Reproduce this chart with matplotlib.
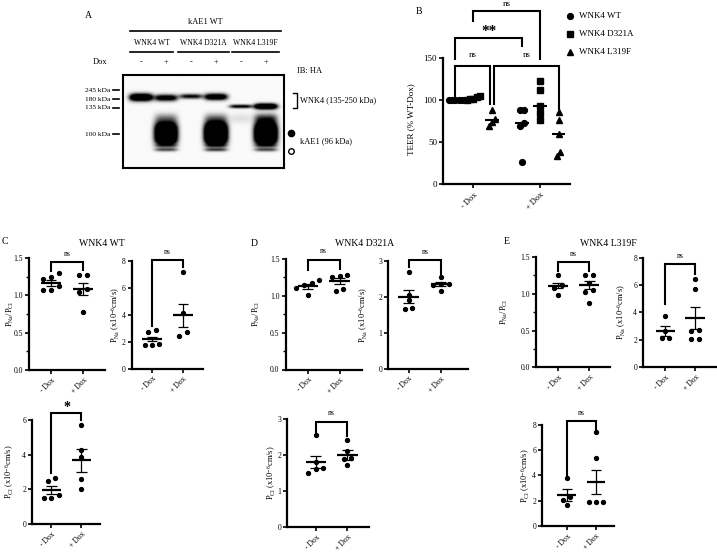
import numpy as np
import matplotlib
matplotlib.use('Agg')
import matplotlib.pyplot as plt

plt.rcParams['font.family'] = ['Liberation Serif', 'DejaVu Serif']
plt.rcParams['mathtext.fontset'] = 'custom'
plt.rcParams['mathtext.rm'] = 'Liberation Serif'
plt.rcParams['mathtext.it'] = 'Liberation Serif:italic'
plt.rcParams['mathtext.bf'] = 'Liberation Serif:bold'

# ---------------- data ----------------
# Panel A (western blot, IB: HA) – lane design and band intensities
blot_groups = ['WNK4 WT', 'WNK4 D321A', 'WNK4 L319F']
blot_dox = ['-', '+', '-', '+', '-', '+']
mw_markers = ['245 kDa', '180 kDa', '135 kDa', '100 kDa']
mw_rows = [15, 24.3, 32.7, 59.3]              # marker rows (px from blot top)
wnk4_rows = [23, 23.5, 22, 22.5, 32, 32]       # apparent WNK4 mobility per lane
wnk4_amp = [1.9, 1.3, 1.0, 1.5, 1.1, 1.9]
wnk4_thick = [3.6, 3.2, 2.4, 3.2, 1.8, 2.8]
kae1_amp = [0, 2.2, 0, 2.6, 0, 2.4]
kae1_upper_amp = [0, 0.45, 0, 0.5, 0.10, 0.75]
kae1_lower_amp = [0, 0.6, 0, 0.65, 0, 0.6]

# Panel B – TEER (% WT-Dox)
genotypes = ['WNK4 WT', 'WNK4 D321A', 'WNK4 L319F']
teer_minus_dox = [[100, 100, 100, 100, 100], [100, 101, 102, 104, 105], [88, 78, 74, 70]]
teer_plus_dox = [[89, 89, 73, 69, 26], [123, 112, 93, 85, 77], [86, 76, 60, 39, 34]]
teer_median_minus = [100, 102, 77]
teer_median_plus = [73, 93, 60]

# Panels C-E
dox_labels = ['- Dox', '+ Dox']
c_ratio_minus = [1.30, 1.245, 1.22, 1.13, 1.07, 1.07]
c_ratio_plus = [1.27, 1.27, 1.08, 1.05, 0.78]
c_pna_minus = [2.83, 2.72, 1.80, 1.78, 1.78]
c_pna_plus = [7.16, 4.15, 2.70, 2.45]
c_pcl_minus = [2.65, 2.50, 1.65, 1.50, 1.50]
c_pcl_plus = [5.70, 4.25, 3.85, 2.60, 2.00]
c_means = {'ratio': [1.16, 1.085], 'pna': [2.2, 3.95], 'pcl': [1.96, 3.67]}
c_sems = {'ratio': [0.04, 0.085], 'pna': [0.17, 0.87], 'pcl': [0.22, 0.65]}

d_ratio_minus = [1.21, 1.18, 1.15, 1.10, 1.01]
d_ratio_plus = [1.28, 1.27, 1.25, 1.09, 1.06]
d_pna_minus = [2.70, 2.05, 1.90, 1.70, 1.65]
d_pna_plus = [2.54, 2.37, 2.35, 2.33, 2.15]
d_pcl_minus = [2.55, 1.80, 1.63, 1.60, 1.50]
d_pcl_plus = [2.42, 2.10, 1.90, 1.88, 1.72]
d_means = {'ratio': [1.13, 1.20], 'pna': [2.0, 2.35], 'pcl': [1.81, 2.0]}
d_sems = {'ratio': [0.037, 0.04], 'pna': [0.18, 0.06], 'pcl': [0.17, 0.13]}

e_ratio_minus = [1.25, 1.12, 1.08, 0.98]
e_ratio_plus = [1.25, 1.25, 1.15, 1.05, 1.03, 0.88]
e_pna_minus = [3.70, 2.60, 2.10, 2.10]
e_pna_plus = [6.47, 5.75, 2.67, 2.60, 2.06, 2.06]
e_pcl_minus = [3.75, 2.30, 2.05, 1.65]
e_pcl_plus = [7.42, 5.41, 1.90, 1.85, 1.85]
e_means = {'ratio': [1.11, 1.12], 'pna': [2.63, 3.58], 'pcl': [2.44, 3.5]}
e_sems = {'ratio': [0.035, 0.05], 'pna': [0.36, 0.79], 'pcl': [0.46, 0.95]}

# significance brackets: (bar level, left leg end, right leg end, label)
c_brackets = {'ratio': (1.44, 1.33, 1.34, 'ns'), 'pna': (8.08, 3.13, 7.58, 'ns'), 'pcl': (6.42, 2.96, 6.0, '*')}
d_brackets = {'ratio': (1.49, 1.35, 1.36, 'ns'), 'pna': (3.02, 2.82, 2.65, 'ns'), 'pcl': (2.93, 2.65, 2.53, 'ns')}
e_brackets = {'ratio': (1.43, 1.31, 1.31, 'ns'), 'pna': (7.55, 4.6, 6.8, 'ns'), 'pcl': (8.32, 3.9, 7.6, 'ns')}

# ---------------- figure ----------------
W, H = 717, 554
fig = plt.figure(figsize=(7.17, 5.54), dpi=100)


def px_rect(l, r, t, b):
    return [l / W, 1 - b / H, (r - l) / W, (b - t) / H]


def swarm(vals, thr, step):
    vals = np.asarray(vals, float)
    order = np.argsort(vals)
    offs = np.zeros(len(vals))
    clusters, cur = [], [order[0]]
    for i in order[1:]:
        if vals[i] - vals[cur[-1]] < thr:
            cur.append(i)
        else:
            clusters.append(cur)
            cur = [i]
    clusters.append(cur)
    for c in clusters:
        k = len(c)
        for j, idx in enumerate(c):
            offs[idx] = (j - (k - 1) / 2) * step
    return offs


def style_axes(ax, lw=1.6):
    for s in ['top', 'right']:
        ax.spines[s].set_visible(False)
    for s in ['left', 'bottom']:
        ax.spines[s].set_linewidth(lw)
    ax.tick_params(width=1.2, length=3, labelsize=5.5, pad=1.5)
    ax.tick_params(which='minor', width=1.0, length=2)
    ax.patch.set_visible(False)


# ---------- Panel A: blot ----------
blot_l, blot_r, blot_t, blot_b = 123, 284, 75, 168
ax_blot = fig.add_axes(px_rect(blot_l, blot_r, blot_t, blot_b))
x0, x1 = 0.28, 6.72
bh = blot_b - blot_t
xs = np.linspace(x0, x1, 420)
ys = np.linspace(0, bh, 260)
X, Y = np.meshgrid(xs, ys)
img = np.full(X.shape, 0.02)
for i in range(6):
    lane = i + 1
    hx = np.exp(-np.abs((X - lane) / 0.46) ** 4)
    img += wnk4_amp[i] * hx * np.exp(-((Y - wnk4_rows[i]) / wnk4_thick[i]) ** 2)
    img += kae1_amp[i] * hx * np.exp(-np.abs((Y - 59) / 11) ** 3)
    img += kae1_upper_amp[i] * hx * np.exp(-((Y - 44) / 5) ** 2)
    img += kae1_lower_amp[i] * hx * np.exp(-((Y - 75) / 1.8) ** 2)
    img += 0.5 * kae1_lower_amp[i] * hx * np.exp(-((Y - 71) / 1.5) ** 2)
ax_blot.imshow(np.clip(img, 0, 1), cmap='gray_r', vmin=0, vmax=1, extent=(x0, x1, bh, 0),
               aspect='auto', interpolation='bilinear')
ax_blot.set_xticks([])
ax_blot.set_yticks([])
for s in ax_blot.spines.values():
    s.set_linewidth(1.5)

# ---------- Panel B ----------
ax_b = fig.add_axes(px_rect(443.3, 570, 58.3, 184.3))
style_axes(ax_b)
ax_b.set_xlim(0.55, 2.45)
ax_b.set_ylim(0, 150)
ax_b.set_yticks([0, 50, 100, 150])
ax_b.set_xticks([1, 2])
ax_b.set_xticklabels(dox_labels, rotation=45, ha='right', va='top', rotation_mode='anchor')
ax_b.tick_params(axis='x', labelsize=6)
ax_b.tick_params(axis='y', labelsize=6.5)
markers = ['o', 's', '^']
msizes = [4.2, 4.0, 4.4]
sub_off = [-0.27, 0.0, 0.28]
for g in range(3):
    for center, vals, med in [(1, teer_minus_dox[g], teer_median_minus[g]),
                              (2, teer_plus_dox[g], teer_median_plus[g])]:
        xpos = center + sub_off[g]
        offs = swarm(vals, 6.0, 0.05)
        ax_b.plot(xpos + offs, vals, linestyle='none', marker=markers[g], ms=msizes[g],
                  color='black', clip_on=False, zorder=3)
        ax_b.hlines(med, xpos - 0.1, xpos + 0.1, color='black', lw=1.5, zorder=4)
ax_b.set_ylabel('TEER (% WT-Dox)', fontsize=6.5)
ax_b.yaxis.set_label_coords((415.5 - 443.3) / (570 - 443.3), 0.52)

b_brackets = [
    (1 + sub_off[0], 1 + sub_off[2] - 0.03, 141, 104, 96, 'ns'),
    (1 + sub_off[2] + 0.03, 2 + sub_off[2], 141, 96, 90, 'ns'),
    (1 + sub_off[0], 2 + sub_off[0], 174.6, 149, 165, '**'),
    (1 + sub_off[1], 2 + sub_off[1], 206, 195, 149, 'ns'),
]
for n, (xa, xb, bar, ya, yb, lab) in enumerate(b_brackets):
    ax_b.plot([xa, xa, xb, xb], [ya, bar, bar, yb], color='black', lw=1.5, clip_on=False,
              solid_joinstyle='miter')
    if lab == '**':
        ax_b.annotate(lab, ((xa + xb) / 2, bar), xytext=(0, 4.5), textcoords='offset points',
                      ha='center', va='center', fontsize=11, fontweight='bold', annotation_clip=False)
    else:
        off = 5.2 if n == 3 else 7.5
        ax_b.annotate(lab, ((xa + xb) / 2, bar), xytext=(0, off), textcoords='offset points',
                      ha='center', va='center', fontsize=6.5, annotation_clip=False)


# ---------- Panels C-E ----------
def small_panel(rect, xlim, ymax, major, minor, fmt, minus, plus, means, sems, bracket,
                ylabel, ylabel_x):
    l, r, t, b = rect
    ax = fig.add_axes(px_rect(l, r, t, b))
    style_axes(ax)
    ax.set_xlim(*xlim)
    ax.set_ylim(0, ymax)
    ax.set_yticks(np.arange(0, ymax + 1e-9, major))
    ax.set_yticklabels([fmt % v for v in np.arange(0, ymax + 1e-9, major)])
    if minor:
        ax.set_yticks(np.arange(0, ymax + 1e-9, minor), minor=True)
    ax.set_xticks([1, 2])
    ax.set_xticklabels(dox_labels, rotation=45, ha='right', va='top', rotation_mode='anchor')
    pxu = (b - t) / ymax
    for k, vals in enumerate([minus, plus]):
        xc = k + 1
        offs = swarm(vals, 4.5 / pxu, 0.24)
        ax.plot(xc + offs, vals, linestyle='none', marker='o', ms=2.8, color='black',
                clip_on=False, zorder=3)
        m, s = means[k], sems[k]
        ax.hlines(m, xc - 0.32, xc + 0.32, color='black', lw=1.6, zorder=4)
        ax.vlines(xc, m - s, m + s, color='black', lw=0.9, zorder=4)
        ax.hlines([m - s, m + s], xc - 0.17, xc + 0.17, color='black', lw=0.9, zorder=4)
    bar, ya, yb, lab = bracket
    ax.plot([1, 1, 2, 2], [ya, bar, bar, yb], color='black', lw=1.5, clip_on=False,
            solid_joinstyle='miter')
    if lab == '*':
        ax.annotate(lab, (1.5, bar), xytext=(0, 4), textcoords='offset points', ha='center',
                    va='center', fontsize=10, fontweight='bold', annotation_clip=False)
    else:
        ax.annotate(lab, (1.5, bar), xytext=(0, 6), textcoords='offset points', ha='center',
                    va='center', fontsize=5.5, annotation_clip=False)
    ax.set_ylabel(ylabel, fontsize=6)
    ax.yaxis.set_label_coords((ylabel_x + 3.5 - l) / (r - l), 0.5)
    return ax


lab_ratio = r'$\mathregular{P_{Na}/P_{Cl}}$'
lab_pna = r'$\mathregular{P_{Na}}$ (x10$^{\mathregular{-6}}$cm/s)'
lab_pcl = r'$\mathregular{P_{Cl}}$ (x10$^{\mathregular{-6}}$cm/s)'

# C
small_panel((29, 105, 258, 370), (0.31, 2.69), 1.5, 0.5, 0.25, '%.1f', c_ratio_minus, c_ratio_plus,
            c_means['ratio'], c_sems['ratio'], c_brackets['ratio'], lab_ratio, 12)
small_panel((132, 203, 261, 368.5), (0.35, 2.65), 8, 2, None, '%d', c_pna_minus, c_pna_plus,
            c_means['pna'], c_sems['pna'], c_brackets['pna'], lab_pna, 118)
small_panel((32.3, 100, 420, 524), (0.36, 2.62), 6, 2, None, '%d', c_pcl_minus, c_pcl_plus,
            c_means['pcl'], c_sems['pcl'], c_brackets['pcl'], lab_pcl, 12)
# D
small_panel((285.7, 361.7, 259, 369.5), (0.3, 2.7), 1.5, 0.5, 0.25, '%.1f', d_ratio_minus, d_ratio_plus,
            d_means['ratio'], d_sems['ratio'], d_brackets['ratio'], lab_ratio, 258)
small_panel((388.3, 468.3, 261, 368.5), (0.37, 2.85), 3, 1, None, '%d', d_pna_minus, d_pna_plus,
            d_means['pna'], d_sems['pna'], d_brackets['pna'], lab_pna, 367)
small_panel((287.4, 368.6, 419, 526.7), (0.1, 2.67), 3, 1, None, '%d', d_pcl_minus, d_pcl_plus,
            d_means['pcl'], d_sems['pcl'], d_brackets['pcl'], lab_pcl, 274)
# E
small_panel((536, 610, 257, 367.3), (0.31, 2.66), 1.5, 0.5, 0.25, '%.1f', e_ratio_minus, e_ratio_plus,
            e_means['ratio'], e_sems['ratio'], e_brackets['ratio'], lab_ratio, 507)
small_panel((643.3, 716, 258, 366.7), (0.27, 2.7), 8, 2, None, '%d', e_pna_minus, e_pna_plus,
            e_means['pna'], e_sems['pna'], e_brackets['pna'], lab_pna, 624)
small_panel((542.4, 614.3, 425, 525.7), (0.17, 2.63), 8, 2, None, '%d', e_pcl_minus, e_pcl_plus,
            e_means['pcl'], e_sems['pcl'], e_brackets['pcl'], lab_pcl, 528)

# ---------- overlay for annotations ----------
ov = fig.add_axes([0, 0, 1, 1])
ov.set_xlim(0, W)
ov.set_ylim(H, 0)
ov.axis('off')
ov.patch.set_visible(False)

# panel letters & titles
for txt, x, y in [('A', 88, 15), ('B', 419, 11), ('C', 5, 242), ('D', 254, 243), ('E', 507, 242)]:
    ov.text(x, y, txt, fontsize=7, ha='center', va='center')
for txt, x in [('WNK4 WT', 102), ('WNK4 D321A', 365), ('WNK4 L319F', 608)]:
    ov.text(x, 243, txt, fontsize=7, ha='center', va='center')

# blot annotations
lane_px = [blot_l + (i + 1 - x0) / (x1 - x0) * (blot_r - blot_l) for i in range(6)]
ov.text(205, 22, 'kAE1 WT', fontsize=6, ha='center', va='center')
ov.plot([130, 281], [31, 31], color='black', lw=1.2)
for g, (name, (ga, gb)) in enumerate(zip(blot_groups, [(130, 173), (178, 229), (232, 279)])):
    ov.text((ga + gb) / 2, 43, name, fontsize=5.5, ha='center', va='center')
    ov.plot([ga, gb], [52, 52], color='black', lw=1.2)
ov.text(100, 62, 'Dox', fontsize=6, ha='center', va='center')
for xp, s in zip(lane_px, blot_dox):
    ov.text(xp, 62, s, fontsize=6, ha='center', va='center')
ov.text(297, 71, 'IB: HA', fontsize=6, ha='left', va='center')
for name, row in zip(mw_markers, mw_rows):
    y = blot_t + row
    ov.text(110, y, name, fontsize=5.3, ha='right', va='center')
    ov.plot([113, 119], [y, y], color='black', lw=1.2)
ov.plot([293, 297, 297, 293], [93, 93, 108, 108], color='black', lw=1.0)
ov.text(300, 100, 'WNK4 (135-250 kDa)', fontsize=6, ha='left', va='center')
ov.plot([291], [133], marker='o', ms=4.5, color='black', linestyle='none')
ov.plot([291], [151], marker='o', ms=4.0, mfc='white', mec='black', mew=1.0, linestyle='none')
ov.text(300, 141, 'kAE1 (96 kDa)', fontsize=6, ha='left', va='center')

# legend for panel B
for g, (name, y) in enumerate(zip(genotypes, [15.7, 34.3, 52])):
    ov.plot([570], [y], marker=markers[g], ms=msizes[g], color='black', linestyle='none')
    ov.text(579, y, name, fontsize=6.5, ha='left', va='center')

fig.savefig('out.png', dpi=100)
